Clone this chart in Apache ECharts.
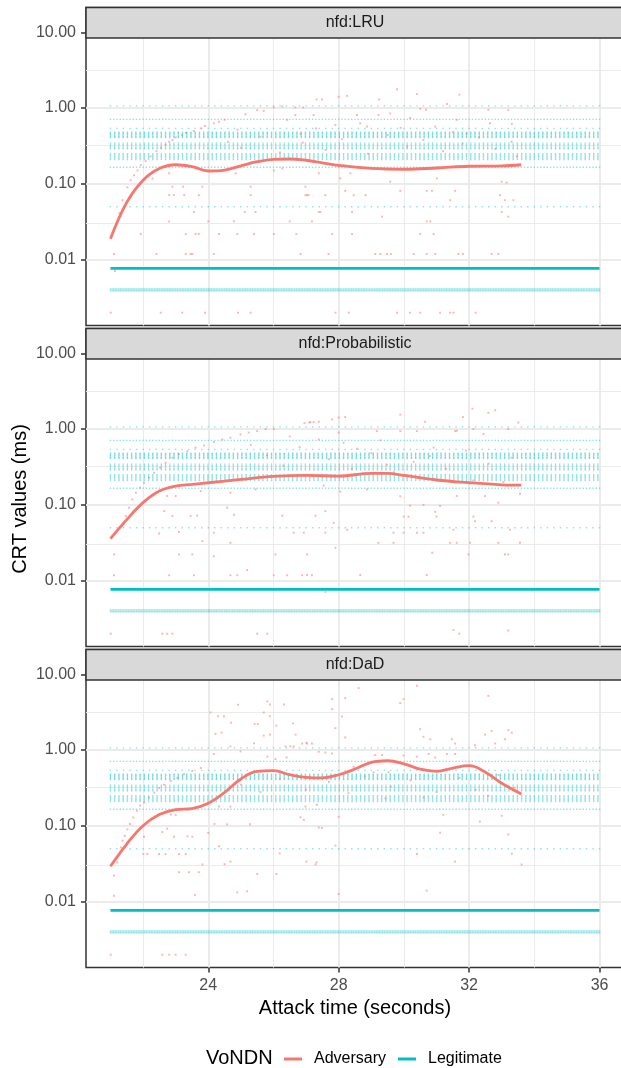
<!DOCTYPE html>
<html><head><meta charset="utf-8">
<script src="https://cdn.jsdelivr.net/npm/echarts@6/dist/echarts.min.js"></script>
<style>html,body{margin:0;padding:0;background:#fff}#c{width:621px;height:1068px}</style>
</head><body><div id="c"></div>
<script>
// ---------------- DATA ----------------
const panelNames = ['nfd:LRU', 'nfd:Probabilistic', 'nfd:DaD'];
const seriesNames = ['Adversary', 'Legitimate'];
const xTickValues = [24, 28, 32, 36];
const xMinorValues = [22, 26, 30, 34];
const yTickValues = [0.01, 0.1, 1, 10];
const yMinorValues = [0.00316, 0.0316, 0.316, 3.16];

// Legitimate samples: observed value bands and their sampling step (s) over the attack window
const legitStart = 21.0, legitEnd = 36.0;
const legitLevels = [1.07, 0.71, 0.54,
  0.48, 0.465, 0.45, 0.435, 0.42, 0.41,
  0.345, 0.33, 0.315, 0.30, 0.29,
  0.25, 0.24, 0.23, 0.22, 0.21,
  0.166, 0.05, 0.0041, 0.0039];
const legitSteps = [0.2, 0.1, 0.2,
  0.13, 0.13, 0.13, 0.13, 0.13, 0.13,
  0.13, 0.13, 0.13, 0.13, 0.13,
  0.13, 0.13, 0.13, 0.13, 0.13,
  0.1, 0.2, 0.05, 0.05];
const legitSmooth = [[21, 0.0077], [28.5, 0.0077], [36, 0.0077]];

// Adversary smoothed trend per panel
const lruSmooth = [[21,0.0189],[21.5,0.057],[22,0.112],[22.5,0.16],[23,0.179],[23.5,0.169],[24,0.148],[24.5,0.152],[25,0.173],[25.5,0.196],[26,0.211],[26.5,0.213],[27,0.205],[27.5,0.19],[28,0.176],[29,0.16],[30,0.156],[31,0.162],[32,0.171],[33,0.173],[33.6,0.179]];
const probSmooth = [[21,0.0358],[21.5,0.064],[22,0.107],[22.5,0.152],[23,0.177],[23.5,0.186],[24,0.196],[25,0.217],[26,0.238],[27,0.245],[28,0.24],[29,0.26],[29.5,0.26],[30,0.245],[31,0.213],[32,0.196],[33,0.184],[33.6,0.182]];
const dadSmooth = [[21,0.0293],[21.5,0.0577],[22,0.1007],[22.5,0.141],[23,0.164],[23.5,0.169],[24,0.199],[24.5,0.277],[25,0.416],[25.5,0.525],[26,0.535],[26.5,0.473],[27,0.437],[27.5,0.43],[28,0.473],[28.5,0.562],[29,0.69],[29.5,0.724],[30,0.66],[30.5,0.56],[31,0.525],[31.5,0.58],[32,0.622],[32.5,0.51],[33,0.365],[33.6,0.264]];

// Adversary raw CRT samples per panel [time, value]
const lruPoints = [
 [21.11,0.0119],[21.27,0.041],[21.37,0.061],[21.52,0.09],[21.62,0.112],[21.72,0.13],[21.83,0.15],[21.93,0.177],[22.08,0.2],[22.23,0.23],[22.41,0.27],[22.54,0.3],[22.69,0.33],[22.8,0.36],[22.9,0.38],[23.0,0.41],[23.2,0.44],[23.31,0.47],[23.56,0.5],[23.77,0.54],[23.9,0.58],[24.17,0.63],[24.33,0.66],[24.5,0.7],
 [21.01,0.002],[22.54,0.002],[23.2,0.002],[23.9,0.002],[24.91,0.002],[25.3,0.002],[27.9,0.002],[28.31,0.002],[29.79,0.002],[30.19,0.002],[30.5,0.002],[31.11,0.002],[31.42,0.002],[31.52,0.002],[32.2,0.002],
 [22.41,0.0119],[23.31,0.0119],[23.46,0.0119],[23.51,0.0119],[24.17,0.0119],[26.83,0.0119],[27.69,0.0119],[29.12,0.0119],[29.28,0.0119],[29.48,0.0119],[29.6,0.0119],[30.3,0.0119],[30.7,0.0119],[30.96,0.0119],[31.67,0.0119],[31.81,0.0119],[32.69,0.0119],[32.9,0.0119],[21.14,0.0071],
 [21.93,0.0218],[23.31,0.0218],[23.61,0.0218],[23.71,0.0218],[24.33,0.0218],[24.89,0.0218],[25.4,0.0218],[26.01,0.0218],[26.7,0.0218],[27.8,0.0218],[28.41,0.0218],[30.5,0.0218],[30.91,0.0218],
 [22.8,0.032],[24.0,0.032],[24.79,0.032],[26.5,0.032],[27.18,0.032],[30.7,0.032],[30.81,0.032],[33.2,0.037],[29.33,0.037],
 [23.56,0.0425],[25.12,0.0425],[25.45,0.0425],[27.39,0.0425],[27.44,0.0425],[28.41,0.0425],[33.0,0.0425],
 [22.8,0.071],[22.95,0.071],[23.26,0.071],[23.71,0.071],[25.3,0.071],[26.98,0.071],[27.08,0.071],[27.03,0.071],[27.59,0.071],[28.46,0.071],[28.82,0.071],[32.95,0.071],
 [28.2,0.081],[29.89,0.081],[30.7,0.081],[30.86,0.081],[31.57,0.081],[31.42,0.061],[33.1,0.061],[33.36,0.061],
 [22.9,0.092],[23.23,0.092],[23.82,0.092],[25.3,0.092],[26.98,0.092],
 [22.29,0.118],[22.8,0.138],[24.84,0.138],[26.01,0.15],[26.27,0.16],[27.39,0.138],[28.36,0.138],[28.05,0.118],[29.58,0.107],[31.01,0.118],[33.0,0.107],[33.15,0.104],
 [26.01,1.02],[26.27,1.05],[26.67,1.02],[26.91,1.02],[27.32,1.3],[25.5,0.94],[25.7,0.92],[25.14,0.83],[26.67,0.81],[26.42,0.7],[27.3,0.54],[26.83,0.46],
 [29.79,1.77],[30.4,1.53],[31.7,1.5],[28.26,1.45],[28.0,1.41],[27.49,1.3],[29.24,1.3],[27.23,0.81],[28.56,0.81],[29.22,0.81],[30.19,0.74],[30.5,0.98],[30.68,0.95],[31.32,1.13],[32.59,0.95],[33.2,0.94],[28.66,0.63],[28.87,0.57],[29.58,0.85],[30.96,0.57],[31.62,0.7],[31.93,0.46],[32.64,0.63],[33.31,0.62],[33.46,0.23],
 [24.6,0.36],[25.0,0.3],[25.6,0.42],[26.2,0.26],[26.9,0.35],[27.6,0.28],[28.1,0.39],[28.9,0.25],[29.5,0.44],[30.1,0.31],[30.6,0.38],[31.2,0.27],[31.8,0.34],[32.3,0.41],[32.8,0.29],[33.3,0.36],[24.9,0.52],[27.9,0.6],[29.9,0.55],[31.5,0.48]
];
const probPoints = [
 [21.11,0.0222],[21.37,0.0526],[21.47,0.0713],[21.57,0.0918],[21.67,0.118],[21.78,0.145],[21.91,0.169],[22.03,0.196],[22.18,0.229],[22.34,0.266],[22.52,0.31],[22.69,0.36],[22.9,0.42],[23.1,0.465],[23.36,0.51],[23.61,0.57],[23.87,0.61],[24.17,0.675],[24.43,0.73],[24.68,0.77],[24.99,0.85],[25.24,0.9],[25.5,0.94],[25.76,1.0],[26.01,1.0],
 [21.01,0.002],[22.59,0.002],[22.74,0.002],[22.9,0.002],[25.5,0.002],[25.81,0.002],[31.52,0.00223],[31.7,0.002],[33.2,0.0022],
 [21.11,0.0118],[22.8,0.0118],[23.56,0.0118],[24.68,0.0118],[24.89,0.0118],[26.01,0.0118],[26.42,0.0118],[26.88,0.0118],[27.18,0.0118],[27.03,0.0119],[28.66,0.0119],[30.7,0.0119],[25.19,0.0138],[27.59,0.0071],
 [23.1,0.0222],[23.51,0.0222],[24.17,0.021],[26.06,0.0222],[27.03,0.0222],[30.87,0.0234],[31.98,0.0222],[33.1,0.0222],[33.2,0.0222],
 [23.82,0.0333],[24.68,0.0316],[27.9,0.0272],[29.22,0.0316],[29.68,0.0316],[31.42,0.0316],[31.62,0.0316],[32.03,0.0316],[32.9,0.0316],[33.56,0.0316],
 [22.49,0.042],[23.1,0.044],[24.17,0.043],[26.62,0.043],[27.59,0.043],[26.93,0.043],[28.26,0.047],[29.68,0.043],[29.99,0.043],[30.4,0.043],[30.6,0.043],[31.52,0.047],[33.26,0.047],[27.85,0.058],[32.18,0.061],[32.69,0.061],
 [22.65,0.083],[22.9,0.071],[23.46,0.071],[23.66,0.072],[24.58,0.092],[24.79,0.074],[26.27,0.072],[27.29,0.072],[27.59,0.083],[29.99,0.07],[30.14,0.07],[31.0,0.07],[32.13,0.07],[30.96,0.081],[30.19,0.098],[31.11,0.097],[30.6,0.1],[32.9,0.107],
 [22.74,0.131],[23.0,0.131],[23.77,0.152],[24.68,0.145],[25.45,0.16],[31.62,0.131],[32.49,0.131],[33.56,0.14],[28.05,0.15],[28.87,0.16],[29.89,0.13],
 [29.89,1.55],[30.65,1.25],[31.81,1.44],[32.1,1.86],[32.59,1.64],[32.8,1.77],[28.2,1.44],[28.0,1.42],[27.8,1.34],[27.23,1.24],[27.39,1.25],[27.13,1.24],[33.51,1.22],[33.2,1.0],[31.62,0.95],[26.95,1.2],[27.1,1.22],
 [27.39,0.73],[28.0,0.9],[28.15,0.66],[28.56,0.55],[29.17,0.94],[29.28,0.71],[29.48,0.34],[29.89,0.94],[30.4,0.94],[30.91,0.57],[31.57,0.94],[32.13,1.0],[32.44,0.86],[32.13,0.21],[33.05,0.2],[27.54,0.18],
 [25.8,0.45],[26.3,0.33],[26.8,0.58],[27.7,0.4],[28.4,0.3],[29.0,0.48],[29.7,0.27],[30.3,0.37],[30.8,0.44],[31.3,0.3],[31.9,0.52],[32.6,0.35],[33.3,0.42],[25.3,0.62],[26.5,0.8]
];
const dadPoints = [
 [21.11,0.0221],[21.21,0.033],[21.32,0.052],[21.37,0.064],[21.44,0.074],[21.52,0.09],[21.6,0.106],[21.7,0.129],[21.81,0.158],[21.91,0.186],[22.03,0.204],[22.18,0.236],[22.34,0.275],[22.49,0.316],[22.64,0.35],[22.85,0.39],[23.05,0.43],[23.26,0.48],[23.51,0.53],[23.77,0.58],
 [21.01,0.002],[22.59,0.002],[22.8,0.002],[23.0,0.002],[23.31,0.002],[21.11,0.012],
 [22.03,0.072],[22.01,0.0425],[22.13,0.0425],[22.49,0.0425],[22.69,0.0425],[22.59,0.083],[22.74,0.092],[22.95,0.072],[23.1,0.0425],[23.31,0.0425],[23.36,0.073],[23.51,0.072],[22.85,0.141],[23.0,0.14],[23.1,0.0245],[23.41,0.0245],[23.71,0.0245],[23.59,0.0123],[23.82,0.031],[24.0,0.081],[24.19,0.106],[24.33,0.054],[24.5,0.0313],[24.58,0.105],[24.68,0.0338],[24.89,0.0133],[25.19,0.0137],[25.5,0.0232],[26.09,0.0232],[26.19,0.0434],[25.28,0.105],[27.01,0.0338],[27.32,0.033],
 [24.07,3.14],[24.3,2.79],[24.48,2.79],[24.7,2.3],[24.41,1.7],[24.22,1.64],[24.91,3.96],[25.81,4.38],[25.89,4.0],[26.32,4.0],[25.7,3.14],[25.89,2.8],[26.09,2.1],[25.42,2.2],[25.52,2.2],[26.6,2.25],[25.89,1.6],[26.68,1.6],[25.7,1.55],[25.4,1.23],[24.99,0.96],[24.68,1.12],[26.37,1.12],[26.52,1.12],[26.62,1.12],[26.88,1.22],[27.18,1.22],[27.01,1.25],[27.39,0.95],[26.4,0.8],[26.06,0.76],[25.81,0.82],[24.17,0.89],
 [24.68,0.18],[24.33,0.18],[26.83,0.13],[26.98,0.18],[27.33,0.19],
 [28.61,6.58],[30.4,7.05],[32.59,5.2],[28.2,4.85],[27.8,4.7],[29.89,4.17],[29.99,4.7],[27.8,3.47],[28.1,2.76],[27.9,1.95],[28.2,1.47],[30.5,1.89],[30.6,1.5],[30.81,1.39],[31.47,1.39],[31.57,1.22],[32.49,1.6],[32.69,1.79],[33.2,1.83],[33.31,1.7],[33.1,1.39],[32.8,1.22],[32.18,1.16],[27.03,1.22],[31.57,0.89],[30.76,0.89],[27.59,0.93],[27.8,0.9],[29.12,0.86],[29.33,0.86],[29.99,0.85],[30.4,0.82],[30.96,0.8],[31.32,0.89],[29.53,0.51],[29.07,0.51],[28.46,0.6],
 [28.0,0.132],[27.39,0.095],[27.49,0.094],[31.11,0.0813],[33.2,0.077],[27.9,0.055],[30.4,0.0425],[33.31,0.043],[27.29,0.031],[31.57,0.0338],[33.61,0.031],[28.0,0.0126],[30.7,0.014],[31.21,0.14],[32.33,0.114],[33.0,0.136],[26.93,0.12],[30.6,0.237],[32.59,0.25],[29.43,0.23],
 [25.0,0.35],[25.6,0.28],[26.2,0.42],[27.0,0.3],[27.7,0.38],[28.3,0.27],[28.8,0.45],[29.6,0.33],[30.2,0.4],[31.0,0.28],[31.7,0.43],[32.2,0.3],[32.9,0.47],[33.4,0.32]
];

const advPoints = [lruPoints, probPoints, dadPoints];
const advSmooth = [lruSmooth, probSmooth, dadSmooth];

// ---------------- CHART ----------------
const FONT = '"Liberation Sans", Arial, Helvetica, sans-serif';
const RED = '#F8766D', TEAL = '#00BFC4';
const X_MIN = 20.25, X_MAX = 36.75;
const Y_MIN = Math.pow(10, -2.868), Y_MAX = Math.pow(10, 1.327);
const GRID_LEFT = 86, GRID_W = 538, GRID_H = 318, GRID_TOP0 = 7.5, GRID_STEP = 321, STRIP_H = 30.5;

function buildLegit() {
  const pts = [];
  legitLevels.forEach((lv, k) => {
    const step = legitSteps[k];
    const n = Math.floor((legitEnd - legitStart) / step + 1e-9);
    for (let j = 0; j <= n; j++) pts.push([+(legitStart + j * step).toFixed(3), lv]);
  });
  return pts;
}
const legitPts = buildLegit();

const chart = echarts.init(document.getElementById('c'), null, {renderer: 'canvas'});
const grids = [], xAxes = [], yAxes = [], series = [], graphics = [];

function yFmt(v) {
  const l = Math.log10(v);
  if (Math.abs(l - Math.round(l)) > 1e-6) return '';
  return Math.pow(10, Math.round(l)).toFixed(2);
}

panelNames.forEach((pn, i) => {
  const top = GRID_TOP0 + GRID_STEP * i;
  grids.push({left: GRID_LEFT, top: top, width: GRID_W, height: GRID_H, show: true,
    backgroundColor: '#fff', borderColor: '#333333', borderWidth: 1.5, containLabel: false, outerBoundsMode: 'none'});
  const last = i === panelNames.length - 1;
  xAxes.push({type: 'value', gridIndex: i, min: X_MIN, max: X_MAX,
    axisLine: {show: false}, splitLine: {show: false},
    axisTick: {show: last, customValues: xTickValues, length: 5, lineStyle: {color: '#333333', width: 1.5}},
    axisLabel: {show: last, customValues: xTickValues, color: '#4D4D4D', fontSize: 16, fontFamily: FONT, margin: 10},
    name: last ? 'Attack time (seconds)' : '', nameLocation: 'middle', nameGap: 31,
    nameTextStyle: {fontSize: 20, color: '#000', fontFamily: FONT}});
  yAxes.push({type: 'log', logBase: 10, gridIndex: i, min: Y_MIN, max: Y_MAX,
    axisLine: {show: false}, splitLine: {show: false},
    axisTick: {show: true, length: 5, lineStyle: {color: '#333333', width: 1.5}},
    axisLabel: {color: '#4D4D4D', fontSize: 16, fontFamily: FONT, margin: 10, formatter: yFmt,
      showMinLabel: false, showMaxLabel: false}});

  const gl = [];
  xMinorValues.forEach(v => gl.push({xAxis: v, lineStyle: {color: '#EBEBEB', width: 1}}));
  yMinorValues.forEach(v => gl.push({yAxis: v, lineStyle: {color: '#EBEBEB', width: 1}}));
  xTickValues.forEach(v => gl.push({xAxis: v, lineStyle: {color: '#EBEBEB', width: 2}}));
  yTickValues.forEach(v => gl.push({yAxis: v, lineStyle: {color: '#EBEBEB', width: 2}}));
  series.push({name: 'grid' + i, type: 'line', xAxisIndex: i, yAxisIndex: i, data: [], z: 1, silent: true,
    markLine: {z: 1, silent: true, symbol: ['none', 'none'], label: {show: false}, animation: false,
      emphasis: {disabled: true}, lineStyle: {type: 'solid'}, data: gl}});

  series.push({name: seriesNames[1], type: 'scatter', xAxisIndex: i, yAxisIndex: i, data: legitPts,
    symbol: 'rect', symbolSize: 1.4, itemStyle: {color: TEAL, opacity: 0.45}, z: 2, silent: true,
    progressive: 0, large: false});
  series.push({name: seriesNames[0], type: 'scatter', xAxisIndex: i, yAxisIndex: i, data: advPoints[i],
    symbol: 'rect', symbolSize: 1.9, itemStyle: {color: RED, opacity: 0.55}, z: 2, silent: true, progressive: 0});
  series.push({name: seriesNames[0], type: 'line', xAxisIndex: i, yAxisIndex: i, data: advSmooth[i],
    smooth: 0.4, showSymbol: false, symbol: 'none', lineStyle: {color: RED, width: 2.8}, itemStyle: {color: RED}, z: 3, silent: true});
  series.push({name: seriesNames[1], type: 'line', xAxisIndex: i, yAxisIndex: i, data: legitSmooth,
    showSymbol: false, symbol: 'none', lineStyle: {color: TEAL, width: 2.8}, itemStyle: {color: TEAL}, z: 3, silent: true});

  graphics.push({type: 'rect', z: 50, shape: {x: GRID_LEFT, y: top, width: GRID_W + 10, height: STRIP_H},
    style: {fill: '#D9D9D9', stroke: '#333333', lineWidth: 1.5}});
  graphics.push({type: 'text', z: 51, x: GRID_LEFT + GRID_W / 2, y: top + STRIP_H / 2,
    style: {text: pn, fill: '#1A1A1A', font: '16px ' + FONT, textAlign: 'center', textVerticalAlign: 'middle'}});
});

graphics.push({type: 'text', z: 51, x: 20, y: 499, rotation: Math.PI / 2,
  style: {text: 'CRT values (ms)', fill: '#000', font: '20px ' + FONT, textAlign: 'center', textVerticalAlign: 'middle'}});
graphics.push({type: 'text', z: 51, x: 206, y: 1058,
  style: {text: 'VoNDN', fill: '#000', font: '20px ' + FONT, textAlign: 'left', textVerticalAlign: 'middle'}});

chart.setOption({
  animation: false,
  backgroundColor: '#fff',
  textStyle: {fontFamily: FONT},
  grid: grids, xAxis: xAxes, yAxis: yAxes, series: series,
  legend: {left: 284, top: 1051, padding: 0, itemWidth: 18, itemHeight: 3, itemGap: 12, selectedMode: false,
    data: [{name: 'Adversary', icon: 'rect', itemStyle: {color: RED, opacity: 1}},
           {name: 'Legitimate', icon: 'rect', itemStyle: {color: TEAL, opacity: 1}}],
    textStyle: {fontSize: 16, color: '#000', fontFamily: FONT, padding: [0, 0, 0, 7]}},
  graphic: graphics
});
</script></body></html>
